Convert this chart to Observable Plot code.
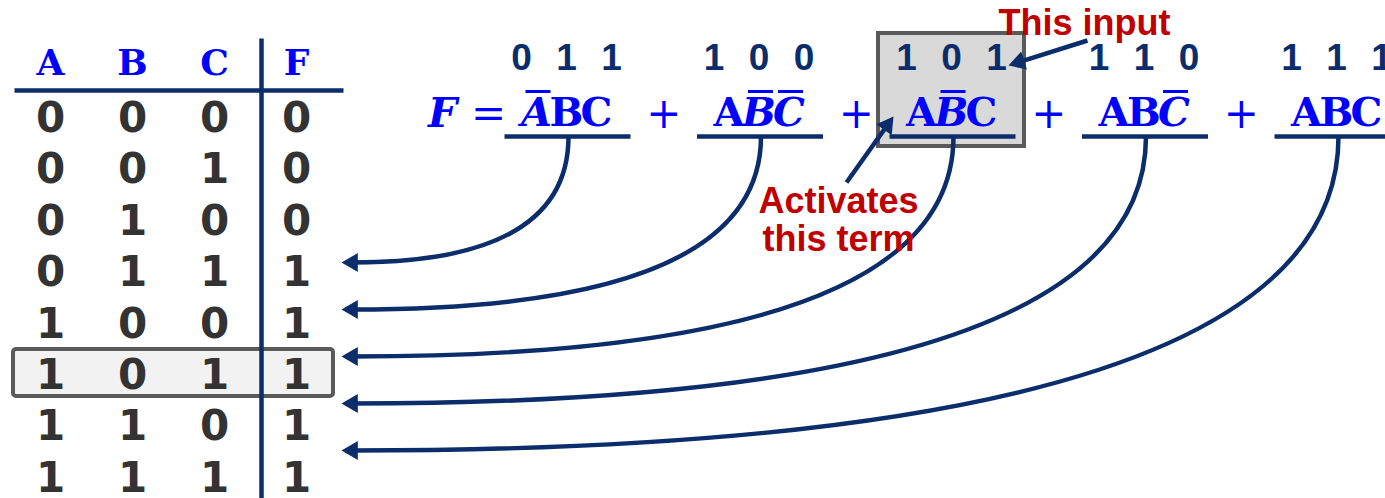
<!DOCTYPE html>
<html><head><meta charset="utf-8">
<script src="https://cdn.jsdelivr.net/npm/d3@7"></script>
<script src="https://cdn.jsdelivr.net/npm/@observablehq/plot@0.6"></script>
<style>html,body{margin:0;padding:0;background:#fff;} svg{display:block}</style>
</head><body><div id="chart"></div>
<script>
// ---------- data ----------
const headers = ["A", "B", "C", "F"];
const colA = [0, 0, 0, 0, 1, 1, 1, 1];
const colB = [0, 0, 1, 1, 0, 0, 1, 1];
const colC = [0, 1, 0, 1, 0, 1, 0, 1];
const colF = [0, 0, 0, 1, 1, 1, 1, 1];
const termLiterals = ["A'BC", "AB'C'", "AB'C", "ABC'", "ABC"];
const termBits = ["011", "100", "101", "110", "111"];
const termRows = [3, 4, 5, 6, 7];
const highlightTerm = 2;
const highlightRow = 5;
const lhsSymbol = "F";
const inputLabel = "This input";
const termLabel = "Activates\nthis term";

// ---------- layout ----------
const W = 1385, H = 498;
const NAVY = "#0b2d6b", BLUE = "#0000ff", RED = "#c00000", DIGIT = "#333333";
const BOX_STROKE = "#5a5a5a";
const colX = j => 50 + 82 * j;
const rowY = i => 118 + 51.4 * i;
const headerY = 63;
const tableRuleY = 90;
const vlineX = colX(2) + 47;
const termX = i => 566 + 192.5 * i;
const letterDX = 30;
const bitDX = 45;
const bitY = 58;
const eqY = 113;
const underY = 136;
const arrowY = k => 262 + 47 * k;
const arrowTipX = 341;
const HEAD_R = 7;
const HEAD_C = HEAD_R * 1.556; // tip distance from triangle centroid

// table cells
const cols = [colA, colB, colC, colF];
const cells = [];
cols.forEach((col, j) => col.forEach((v, i) => cells.push({x: colX(j), y: rowY(i), t: String(v)})));
const heads = headers.map((h, j) => ({x: colX(j), y: headerY, t: h}));

// equation letters
const letters = [];
termLiterals.forEach((term, i) => {
  const lits = [...term.matchAll(/([A-Z])('?)/g)];
  lits.forEach((m, j) => letters.push({
    x: termX(i) + (j - (lits.length - 1) / 2) * letterDX,
    y: eqY, t: m[1], neg: m[2] === "'"
  }));
});
const overlines = letters.filter(d => d.neg).map(d => ({x1: d.x - 11, x2: d.x + 14, y: eqY - 22}));
const bits = [];
termBits.forEach((b, i) => [...b].forEach((c, j) => bits.push({x: termX(i) + (j - 1) * bitDX, y: bitY, t: c})));
const pluses = termLiterals.slice(1).map((_, i) => ({x: (termX(i) + termX(i + 1)) / 2 + 1, y: eqY + 1, t: "+"}));
const lhs = [{x: termX(0) - 124, y: eqY, t: lhsSymbol}];
const eq = [{x: termX(0) - 78, y: eqY + 1, t: "="}];
const underlines = termLiterals.map((_, i) => ({x1: termX(i) - 62, x2: termX(i) + 64, y: underY}));

// connector curves
const curves = termRows.map((r, k) => ({x1: termX(k) + 2, y1: underY, x2: arrowTipX + HEAD_C, y2: arrowY(k)}));
const heads2 = termRows.map((r, k) => ({x: arrowTipX + HEAD_C, y: arrowY(k), rot: -90}));

// label arrows
function arrowFrom(tail, tip) {
  const dx = tip[0] - tail[0], dy = tip[1] - tail[1];
  const L = Math.hypot(dx, dy), ux = dx / L, uy = dy / L;
  const cx = tip[0] - ux * HEAD_C, cy = tip[1] - uy * HEAD_C;
  return {line: {x1: tail[0], y1: tail[1], x2: cx, y2: cy},
          head: {x: cx, y: cy, rot: Math.atan2(dy, dx) * 180 / Math.PI + 90}};
}
const hx = termX(highlightTerm);
const a1 = arrowFrom([hx + 136, 40], [hx + bitDX + 12, bitY + 7]);
const a2 = arrowFrom([hx - 105, 182], [hx - 58, eqY + 3]);
const labelArrows = [a1.line, a2.line];
const labelHeads = [a1.head, a2.head];
const labels = [
  {x: hx + 133, y: 22, t: inputLabel},
  {x: hx - 113, y: 219, t: termLabel}
];

const grayBox = [{x1: hx - 73, x2: hx + 73, y1: 33, y2: 146}];
const rowBox = [{x1: 13, x2: 333, y1: rowY(highlightRow) - 26, y2: rowY(highlightRow) + 21}];
const tableLines = [
  {x1: 14, y1: tableRuleY, x2: 343, y2: tableRuleY},
  {x1: vlineX, y1: 38, x2: vlineX, y2: H}
];

// quadratic "elbow" curve: leaves vertically, arrives horizontally
function elbow(context) {
  let pts = [];
  return {
    areaStart() {}, areaEnd() {},
    lineStart() { pts = []; },
    point(x, y) { pts.push([x, y]); },
    lineEnd() {
      const [a, b] = pts;
      context.moveTo(a[0], a[1]);
      context.quadraticCurveTo(a[0], b[1], b[0], b[1]);
    }
  };
}

const txt = (data, o) => Plot.text(data, {x: "x", y: "y", text: "t", ...o});
const lnk = (data, o) => Plot.link(data, {x1: "x1", y1: "y1", x2: "x2", y2: "y2", ...o});

const chart = Plot.plot({
  width: W, height: H, margin: 0,
  x: {domain: [0, W], range: [0, W], axis: null},
  y: {domain: [0, H], range: [0, H], axis: null},
  style: {background: "#fff"},
  marks: [
    Plot.rect(rowBox, {x1: "x1", x2: "x2", y1: "y1", y2: "y2", fill: "#f2f2f2", stroke: BOX_STROKE, strokeWidth: 4, rx: 3}),
    lnk(tableLines, {stroke: NAVY, strokeWidth: 4.5}),
    txt(heads, {fill: BLUE, fontFamily: "DejaVu Serif", fontWeight: "bold", fontSize: 36}),
    txt(cells, {fill: DIGIT, fontFamily: "DejaVu Sans", fontWeight: "bold", fontSize: 42}),
    Plot.rect(grayBox, {x1: "x1", x2: "x2", y1: "y1", y2: "y2", fill: "#d9d9d9", stroke: BOX_STROKE, strokeWidth: 4}),
    txt(lhs, {fill: BLUE, fontFamily: "DejaVu Serif", fontWeight: "bold", fontStyle: "italic", fontSize: 41}),
    txt(eq, {fill: BLUE, fontFamily: "DejaVu Serif", fontSize: 42}),
    txt(pluses, {fill: BLUE, fontFamily: "DejaVu Serif", fontSize: 42}),
    txt(letters.filter(d => !d.neg), {fill: BLUE, fontFamily: "DejaVu Serif", fontWeight: "bold", fontSize: 40}),
    txt(letters.filter(d => d.neg), {fill: BLUE, fontFamily: "DejaVu Serif", fontWeight: "bold", fontStyle: "italic", fontSize: 40}),
    Plot.link(overlines, {x1: "x1", x2: "x2", y1: "y", y2: "y", stroke: BLUE, strokeWidth: 3}),
    txt(bits, {fill: NAVY, fontFamily: "Liberation Sans", fontWeight: "bold", fontSize: 37}),
    Plot.link(underlines, {x1: "x1", x2: "x2", y1: "y", y2: "y", stroke: NAVY, strokeWidth: 4.5}),
    lnk(curves, {stroke: NAVY, strokeWidth: 4.5, curve: elbow}),
    Plot.dot(heads2, {x: "x", y: "y", symbol: "triangle", r: HEAD_R, fill: NAVY, stroke: "none", rotate: "rot"}),
    lnk(labelArrows, {stroke: NAVY, strokeWidth: 4.5}),
    Plot.dot(labelHeads, {x: "x", y: "y", symbol: "triangle", r: HEAD_R, fill: NAVY, stroke: "none", rotate: "rot"}),
    txt(labels, {fill: RED, fontFamily: "Liberation Sans", fontWeight: "bold", fontSize: 36, lineHeight: 1.05})
  ]
});
document.getElementById("chart").appendChild(chart);
</script>
</body></html>
